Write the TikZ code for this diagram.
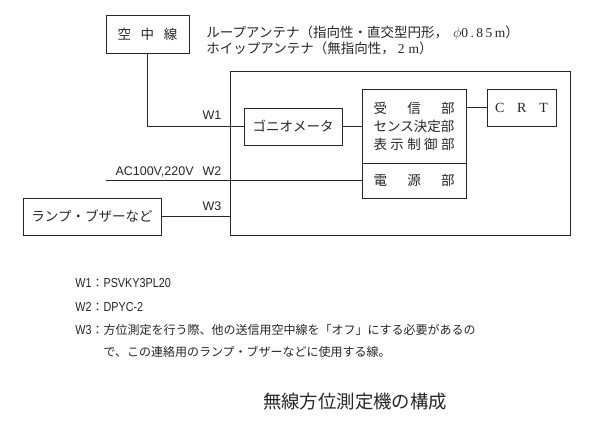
\documentclass[tikz,border=0pt]{standalone}
\usepackage{fontspec}
\setmainfont{Noto Sans CJK JP}
\newfontfamily\latwire{Liberation Sans}
\newfontfamily\latnarrow[FakeStretch=0.83]{Liberation Sans}
\newfontfamily\latserif{Liberation Serif}
\usetikzlibrary{positioning}
\newcommand{\jpsize}{\fontsize{13.5}{18}\selectfont}
\newcommand{\notesize}{\fontsize{12}{15}\selectfont}
\newcommand{\notelat}[1]{{\fontsize{13}{15}\latnarrow #1}}
\newcommand{\spread}[2]{\makebox[#1][s]{#2}}
\tikzset{
  blk/.style={draw, inner sep=0pt, font=\jpsize},
  wlbl/.style={inner sep=0pt, font=\fontsize{12.5}{14}\latwire},
  note/.style={inner sep=0pt, anchor=west, font=\notesize},
}

\begin{document}
\begin{tikzpicture}[x=1pt, y=-1pt, line width=0.8pt, draw=black!85, text=black!85]
    \useasboundingbox (0,0) rectangle (591,432);

    % Blocks
    \node[blk, minimum width=83, minimum height=38] (ant) at (147.5,34) {\spread{60pt}{空\hfill 中\hfill 線}};
    \node[draw, inner sep=0pt, minimum width=340, minimum height=164] (main) at (400,153) {};
    \node[blk, minimum width=98, minimum height=37] (gonio) at (293,126.5) {ゴニオメータ};
    \node[blk, minimum width=104, minimum height=74, align=center] (rx) at (414,126)
        {\spread{6em}{受\hfill 信\hfill 部}\\ センス決定部\\ \spread{6em}{表\hfill 示\hfill 制\hfill 御\hfill 部}};
    \node[blk, minimum width=104, minimum height=35] (pw) at (414,180.5) {\spread{6em}{電\hfill 源\hfill 部}};
    \node[blk, minimum width=69, minimum height=37] (crt) at (521.5,107.5)
        {\fontsize{14}{16}\latserif\spread{53pt}{C\hfill R\hfill T}};
    \node[blk, minimum width=138, minimum height=37] (lamp) at (92,216.5) {ランプ・ブザーなど};

    % Antenna types
    \node[inner sep=0pt, anchor=west, font=\jpsize] (loop) at (206,33)
        {ループアンテナ（指向性・直交型円形，\hspace{5pt}$\phi${\latserif\spread{44pt}{0\hfill .\hfill 8\hfill 5\hfill m}}）};
    \node[inner sep=0pt, anchor=west, font=\jpsize] (whip) at (206,48)
        {ホイップアンテナ（無指向性，\hspace{3pt}{\latserif 2\hspace{4pt}m}）};

    % Wiring
    \coordinate (acin) at (106,180.5);
    \draw (ant.south) |- (gonio.west);
    \draw (gonio.east) -- (gonio.east -| rx.west);
    \draw (rx.east |- crt.west) -- (crt.west);
    \draw (acin) -- (pw.west);
    \draw (lamp.east) -- (lamp.east -| main.west);

    % Wire labels
    \node[wlbl] (w1) at (212,115) {W1};
    \node[wlbl] (w2) at (212,171) {W2};
    \node[wlbl] (w3) at (212,206) {W3};
    \node[wlbl, anchor=east] (ac) at (194,172) {AC100V,220V};

    % Notes
    \node[note] (n1) at (75,283) {\notelat{W1}：\notelat{PSVKY3PL20}};
    \node[note] (n2) at (75,307) {\notelat{W2}：\notelat{DPYC-2}};
    \node[note] (n3) at (75,330) {\notelat{W3}：方位測定を行う際、他の送信用空中線を「オフ」にする必要があるの};
    \node[note, anchor=west] (n4) at (n3.west |- 0,352) {\phantom{\notelat{W3}：}で、この連絡用のランプ・ブザーなどに使用する線。};

    % Title
    \node[inner sep=0pt, font=\fontsize{18.4}{22}\selectfont] (title) at (355,402) {無線方位測定機の構成};
\end{tikzpicture}
\end{document}
